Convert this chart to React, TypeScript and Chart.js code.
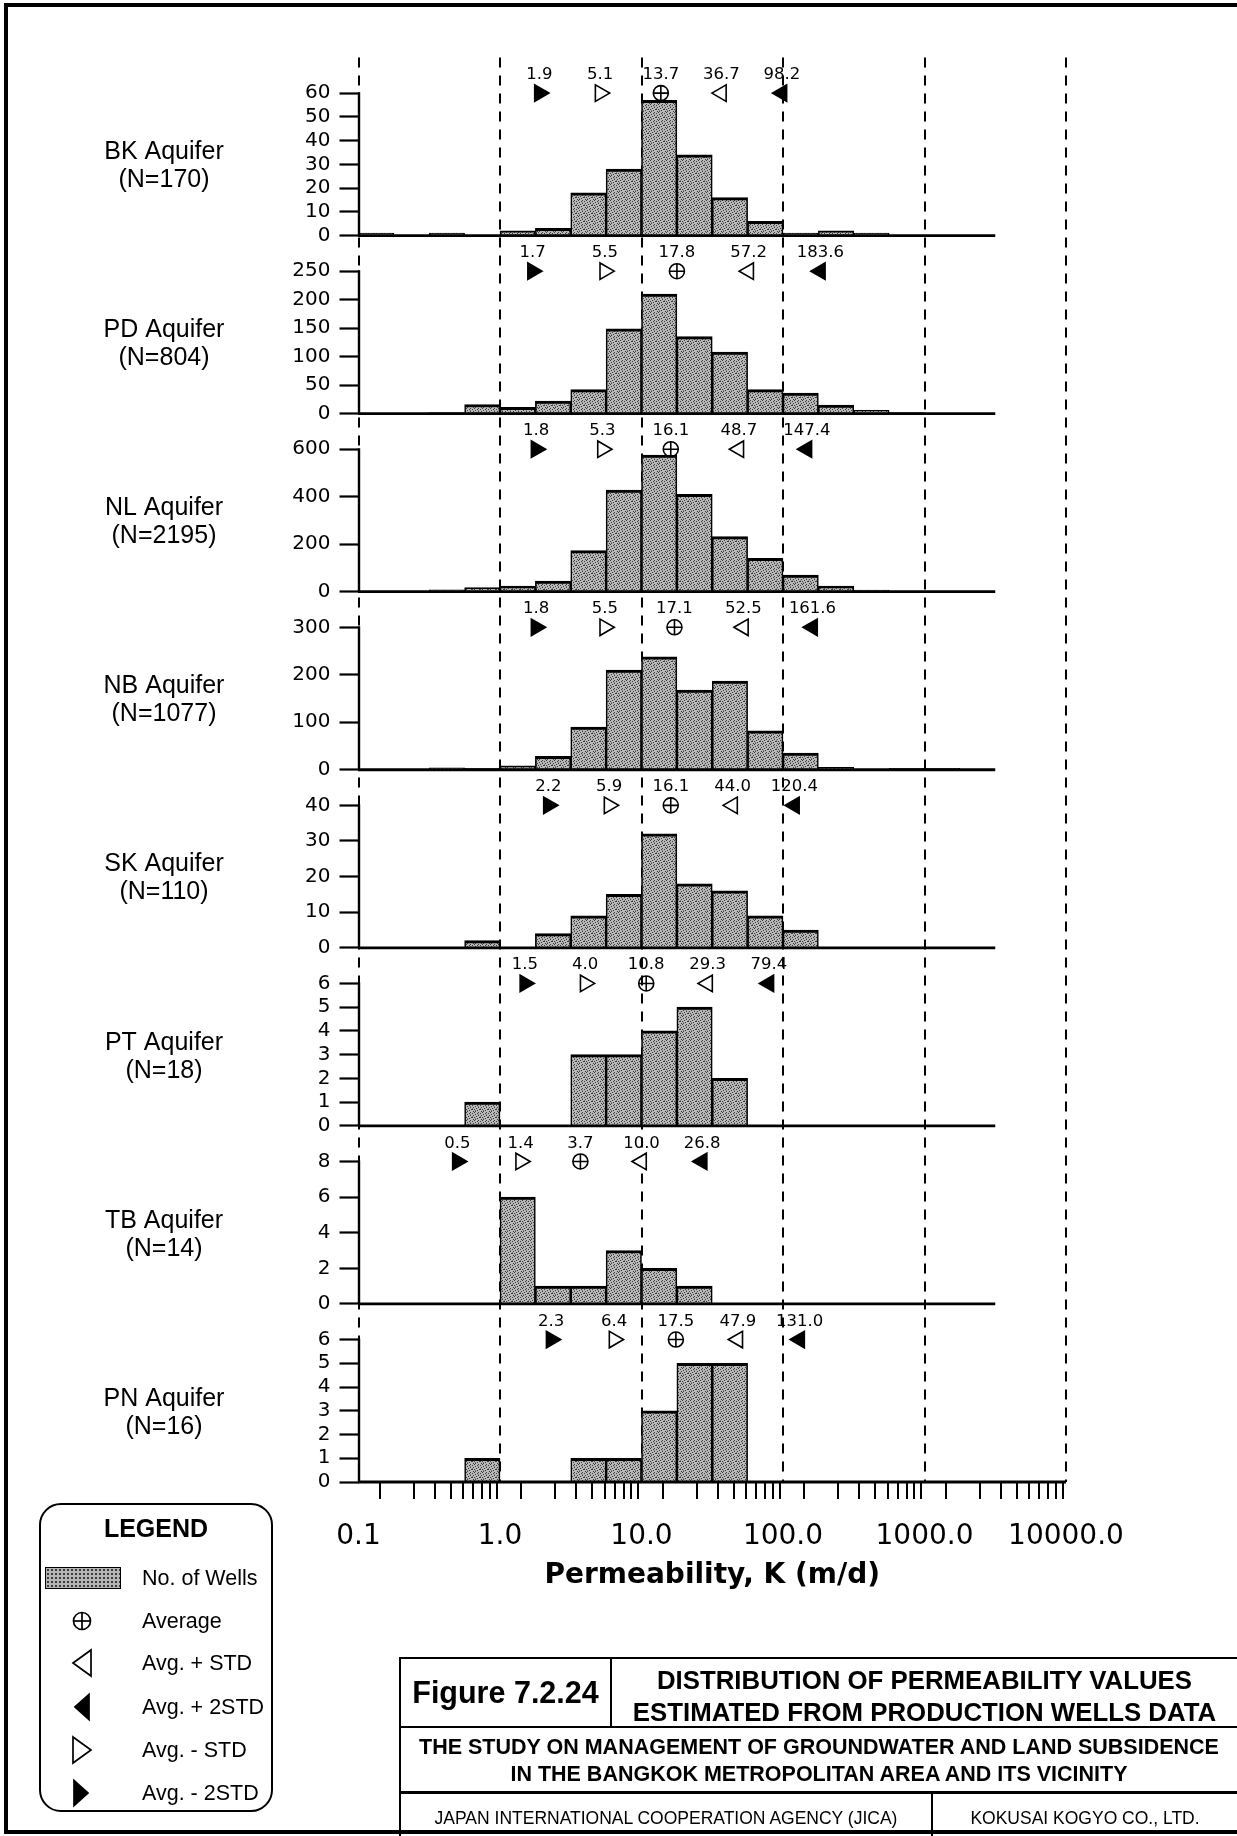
import React, { useEffect, useRef } from 'react';
import { Chart, registerables } from 'chart.js';

Chart.register(...registerables);

// ---- Bins: quarter-decade permeability classes (edges in m/d) ----
const BIN_EDGES = [0.1, 0.1778, 0.3162, 0.5623, 1, 1.778, 3.162, 5.623, 10, 17.78, 31.62, 56.23, 100, 177.8, 316.2, 562.3, 1000, 1778, 3162];

// ---- Number of wells per bin ----
const BK_COUNTS = [1, 0, 1, 0, 2, 3, 18, 28, 57, 34, 16, 6, 1, 2, 1, 0, 0, 0];
const PD_COUNTS = [0, 0, 2, 16, 11, 22, 42, 149, 210, 135, 108, 42, 36, 15, 6, 2, 0, 0];
const NL_COUNTS = [0, 2, 8, 17, 24, 45, 173, 428, 575, 410, 232, 140, 70, 24, 7, 2, 0, 0];
const NB_COUNTS = [0, 1, 4, 3, 8, 28, 90, 210, 238, 168, 187, 82, 35, 5, 1, 3, 3, 1];
const SK_COUNTS = [0, 0, 0, 2, 0, 4, 9, 15, 32, 18, 16, 9, 5, 0, 0, 0, 0, 0];
const PT_COUNTS = [0, 0, 0, 1, 0, 0, 3, 3, 4, 5, 2, 0, 0, 0, 0, 0, 0, 0];
const TB_COUNTS = [0, 0, 0, 0, 6, 1, 1, 3, 2, 1, 0, 0, 0, 0, 0, 0, 0, 0];
const PN_COUNTS = [0, 0, 0, 1, 0, 0, 1, 1, 3, 5, 5, 0, 0, 0, 0, 0, 0, 0];

// ---- Y tick labels per panel ----
const BK_TICKS = [0, 10, 20, 30, 40, 50, 60];
const PD_TICKS = [0, 50, 100, 150, 200, 250];
const NL_TICKS = [0, 200, 400, 600];
const NB_TICKS = [0, 100, 200, 300];
const SK_TICKS = [0, 10, 20, 30, 40];
const PT_TICKS = [0, 1, 2, 3, 4, 5, 6];
const TB_TICKS = [0, 2, 4, 6, 8];
const PN_TICKS = [0, 1, 2, 3, 4, 5, 6];

// ---- Statistics: [Avg-2STD, Avg-STD, Average, Avg+STD, Avg+2STD] ----
const BK_STATS = [1.9, 5.1, 13.7, 36.7, 98.2];
const PD_STATS = [1.7, 5.5, 17.8, 57.2, 183.6];
const NL_STATS = [1.8, 5.3, 16.1, 48.7, 147.4];
const NB_STATS = [1.8, 5.5, 17.1, 52.5, 161.6];
const SK_STATS = [2.2, 5.9, 16.1, 44.0, 120.4];
const PT_STATS = [1.5, 4.0, 10.8, 29.3, 79.4];
const TB_STATS = [0.5, 1.4, 3.7, 10.0, 26.8];
const PN_STATS = [2.3, 6.4, 17.5, 47.9, 131.0];

const AQUIFER_NAMES = ['BK Aquifer', 'PD Aquifer', 'NL Aquifer', 'NB Aquifer', 'SK Aquifer', 'PT Aquifer', 'TB Aquifer', 'PN Aquifer'];
const AQUIFER_N = ['(N=170)', '(N=804)', '(N=2195)', '(N=1077)', '(N=110)', '(N=18)', '(N=14)', '(N=16)'];

// ---- X axis ----
const X_MAJOR = [0.1, 1, 10, 100, 1000, 10000];
const X_TICK_LABELS = ['0.1', '1.0', '10.0', '100.0', '1000.0', '10000.0'];
const X_MINOR_MULT = [2, 3, 4, 5, 6, 7, 8, 9];
const BASELINE_END = 3162;

const PANELS = [
  { key: 'yBK', name: AQUIFER_NAMES[0], n: AQUIFER_N[0], counts: BK_COUNTS, ticks: BK_TICKS, stats: BK_STATS },
  { key: 'yPD', name: AQUIFER_NAMES[1], n: AQUIFER_N[1], counts: PD_COUNTS, ticks: PD_TICKS, stats: PD_STATS },
  { key: 'yNL', name: AQUIFER_NAMES[2], n: AQUIFER_N[2], counts: NL_COUNTS, ticks: NL_TICKS, stats: NL_STATS },
  { key: 'yNB', name: AQUIFER_NAMES[3], n: AQUIFER_N[3], counts: NB_COUNTS, ticks: NB_TICKS, stats: NB_STATS },
  { key: 'ySK', name: AQUIFER_NAMES[4], n: AQUIFER_N[4], counts: SK_COUNTS, ticks: SK_TICKS, stats: SK_STATS },
  { key: 'yPT', name: AQUIFER_NAMES[5], n: AQUIFER_N[5], counts: PT_COUNTS, ticks: PT_TICKS, stats: PT_STATS },
  { key: 'yTB', name: AQUIFER_NAMES[6], n: AQUIFER_N[6], counts: TB_COUNTS, ticks: TB_TICKS, stats: TB_STATS },
  { key: 'yPN', name: AQUIFER_NAMES[7], n: AQUIFER_N[7], counts: PN_COUNTS, ticks: PN_TICKS, stats: PN_STATS },
];

const CHART_FONT = '"DejaVu Sans", "Liberation Sans", sans-serif';
const TEXT_FONT = '"Liberation Sans", Arial, Helvetica, sans-serif';
const HEADROOM = 1.25;
const CANVAS_W = 1237;
const CANVAS_H = 1602;
const LABEL_X = 164;

const STIPPLE = [
  '..x...x.',
  'x....x..',
  '...x..o.',
  '.x....x.',
  'o...x...',
  'x.x....x',
  '...o.x..',
  '.x.x....',
];

function makeStipple(): any {
  const c = document.createElement('canvas');
  c.width = 8;
  c.height = 8;
  const g = c.getContext('2d');
  if (!g) return '#a0a0a0';
  g.fillStyle = '#b9b9b9';
  g.fillRect(0, 0, 8, 8);
  STIPPLE.forEach((row, r) => row.split('').forEach((ch, col) => {
    if (ch === 'x') {
      g.fillStyle = '#3a3a3a';
      g.fillRect(col, r, 1, 1);
    } else if (ch === 'o') {
      g.fillStyle = '#7a7a7a';
      g.fillRect(col, r, 1, 1);
    }
  }));
  return g.createPattern(c, 'repeat') || '#a0a0a0';
}

const BIN_CENTERS = BIN_EDGES.slice(0, -1).map((lo, i) => Math.sqrt(lo * BIN_EDGES[i + 1]));
const X_ALL_TICKS = [
  ...X_MAJOR,
  ...X_MAJOR.slice(0, -1).flatMap((d) => X_MINOR_MULT.map((m) => m * d)),
].sort((a, b) => a - b);

function majorIndex(v: number): number {
  return X_MAJOR.findIndex((m) => Math.abs(m - v) / m < 1e-6);
}

const decadeLinesPlugin = {
  id: 'decadeLines',
  beforeDatasetsDraw(chart: any) {
    const { ctx, chartArea, scales } = chart;
    const xs = scales.xAxis;
    ctx.save();
    ctx.strokeStyle = '#000';
    ctx.lineWidth = 2;
    ctx.setLineDash([10, 8]);
    X_MAJOR.forEach((v) => {
      const px = Math.round(xs.getPixelForValue(v));
      ctx.beginPath();
      ctx.moveTo(px, chartArea.top);
      ctx.lineTo(px, chartArea.bottom);
      ctx.stroke();
    });
    ctx.restore();
  },
};

const overlayPlugin = {
  id: 'aquiferOverlay',
  afterDatasetsDraw(chart: any) {
    const { ctx, scales } = chart;
    const xs = scales.x;
    const xLeft = Math.round(xs.getPixelForValue(X_MAJOR[0]));
    PANELS.forEach((p, i) => {
      const ys = scales[p.key];
      const y0 = ys.getPixelForValue(0);
      const yTop = ys.getPixelForValue(p.ticks[p.ticks.length - 1]);
      const xEnd = xs.getPixelForValue(i === PANELS.length - 1 ? X_MAJOR[X_MAJOR.length - 1] : BASELINE_END);
      ctx.save();
      ctx.strokeStyle = '#000';
      ctx.lineWidth = 2.8;
      ctx.beginPath();
      ctx.moveTo(xLeft - 1, y0);
      ctx.lineTo(xEnd, y0);
      ctx.stroke();
      ctx.lineWidth = 2.4;
      ctx.beginPath();
      ctx.moveTo(xLeft, y0);
      ctx.lineTo(xLeft, yTop - 1);
      ctx.stroke();
      ctx.fillStyle = '#000';
      ctx.font = `25px ${TEXT_FONT}`;
      ctx.textAlign = 'center';
      ctx.textBaseline = 'middle';
      const mid = (y0 + yTop) / 2;
      ctx.fillText(p.name, LABEL_X, mid - 12);
      ctx.fillText(p.n, LABEL_X, mid + 16);
      ctx.restore();
    });
    chart.data.datasets.forEach((ds: any, di: number) => {
      if (!ds.markerLabels) return;
      const meta = chart.getDatasetMeta(di);
      ctx.save();
      ctx.fillStyle = '#000';
      ctx.font = `16.5px ${CHART_FONT}`;
      ctx.textAlign = 'center';
      ctx.textBaseline = 'bottom';
      meta.data.forEach((el: any, j: number) => {
        ctx.fillText(ds.markerLabels[j], el.x, el.y - 10);
      });
      ctx.restore();
    });
  },
};

function LegendSymbol({ kind }: { kind: string }) {
  const s = { stroke: '#000', strokeWidth: 1.7 } as any;
  return (
    <svg width={30} height={32} viewBox="0 0 30 32" style={{ display: 'block' }}>
      {kind === 'avg' && (
        <g fill="none" {...s}>
          <circle cx={15} cy={16} r={8.5} />
          <line x1={15} y1={7.5} x2={15} y2={24.5} />
          <line x1={6.5} y1={16} x2={23.5} y2={16} />
        </g>
      )}
      {kind === 'plus1' && <polygon points="6,16 24,3 24,29" fill="#fff" {...s} />}
      {kind === 'plus2' && <polygon points="8,16 22,3.5 22,28.5" fill="#000" {...s} />}
      {kind === 'minus1' && <polygon points="6,3 24,16 6,29" fill="#fff" {...s} />}
      {kind === 'minus2' && <polygon points="7,3.5 21,16 7,28.5" fill="#000" {...s} />}
    </svg>
  );
}

const LEGEND_ROWS = [
  { kind: 'wells', text: 'No. of Wells', y: 75 },
  { kind: 'avg', text: 'Average', y: 118 },
  { kind: 'plus1', text: 'Avg. + STD', y: 160 },
  { kind: 'plus2', text: 'Avg. + 2STD', y: 204 },
  { kind: 'minus1', text: 'Avg. - STD', y: 247 },
  { kind: 'minus2', text: 'Avg. - 2STD', y: 290 },
];

export default function App() {
  const canvasRef = useRef<HTMLCanvasElement>(null);

  useEffect(() => {
    const canvas = canvasRef.current;
    if (!canvas) return;
    const stipple = makeStipple();
    const datasets: any[] = [];

    PANELS.forEach((p) => {
      const top = p.ticks[p.ticks.length - 1];
      datasets.push({
        type: 'scatter',
        label: p.name + ' stats',
        xAxisID: 'x',
        yAxisID: p.key,
        order: -2,
        data: p.stats.map((v) => ({ x: v, y: top })),
        markerLabels: p.stats.map((v) => v.toFixed(1)),
        pointStyle: ['triangle', 'triangle', 'circle', 'triangle', 'triangle'],
        pointRotation: [90, 90, 0, -90, -90],
        pointRadius: [9.5, 9.5, 7.5, 9.5, 9.5],
        pointBackgroundColor: ['#000', '#fff', 'rgba(0,0,0,0)', '#fff', '#000'],
        pointBorderColor: '#000',
        pointBorderWidth: 1.6,
        showLine: false,
      });
      datasets.push({
        type: 'scatter',
        label: p.name + ' average cross',
        xAxisID: 'x',
        yAxisID: p.key,
        order: -3,
        data: [{ x: p.stats[2], y: top }],
        pointStyle: 'cross',
        pointRadius: 7.5,
        pointBorderColor: '#000',
        pointBorderWidth: 1.6,
        showLine: false,
      });
    });

    PANELS.forEach((p) => {
      datasets.push({
        type: 'bar',
        label: p.name,
        xAxisID: 'x',
        yAxisID: p.key,
        order: 1,
        data: BIN_CENTERS.map((c, j) => ({ x: c, y: p.counts[j] })),
        backgroundColor: stipple,
        borderColor: '#000',
        borderWidth: { top: 3, left: 1.6, right: 1.6, bottom: 0 },
        barPercentage: 1,
        categoryPercentage: 1,
        grouped: false,
      });
    });

    const scales: any = {
      x: {
        type: 'logarithmic',
        display: false,
        min: X_MAJOR[0],
        max: X_MAJOR[X_MAJOR.length - 1],
        afterBuildTicks: (s: any) => {
          s.ticks = X_MAJOR.map((v) => ({ value: v }));
        },
      },
      xAxis: {
        type: 'logarithmic',
        position: 'bottom',
        min: X_MAJOR[0],
        max: X_MAJOR[X_MAJOR.length - 1],
        afterBuildTicks: (s: any) => {
          s.ticks = X_ALL_TICKS.map((v) => ({ value: v, major: majorIndex(v) >= 0 }));
        },
        afterFit: (s: any) => {
          s.height = CANVAS_H - 1482;
        },
        grid: {
          display: true,
          drawOnChartArea: false,
          drawTicks: true,
          tickLength: 17,
          tickWidth: 2,
          tickColor: '#000',
          lineWidth: 2,
          color: '#000',
        },
        border: { display: false },
        ticks: {
          autoSkip: false,
          maxRotation: 0,
          minRotation: 0,
          padding: 21,
          color: '#000',
          font: { family: CHART_FONT, size: 28 },
          callback: (v: any) => {
            const idx = majorIndex(Number(v));
            return idx >= 0 ? X_TICK_LABELS[idx] : '';
          },
        },
        title: {
          display: true,
          text: 'Permeability, K (m/d)',
          color: '#000',
          font: { family: CHART_FONT, size: 28, weight: 'bold' },
          padding: { top: 0, bottom: 9 },
        },
      },
    };

    PANELS.forEach((p, i) => {
      const ticks = p.ticks;
      scales[p.key] = {
        type: 'linear',
        position: 'left',
        stack: 'aquifers',
        stackWeight: 1,
        weight: PANELS.length - i,
        min: 0,
        max: ticks[ticks.length - 1] * HEADROOM,
        afterBuildTicks: (s: any) => {
          s.ticks = ticks.map((v) => ({ value: v }));
        },
        afterFit: (s: any) => {
          s.width = 100;
        },
        grid: {
          drawOnChartArea: false,
          drawTicks: true,
          tickLength: 19,
          tickWidth: 2.2,
          tickColor: '#000',
          color: '#000',
        },
        border: { display: false },
        ticks: {
          autoSkip: false,
          padding: 9,
          color: '#000',
          font: { family: CHART_FONT, size: 20 },
        },
      };
    });

    const chart = new Chart(canvas, {
      type: 'bar',
      data: { datasets },
      options: {
        responsive: false,
        animation: false,
        events: [],
        layout: { padding: { left: 258.5, right: 171, top: 57.5, bottom: 0 } },
        plugins: {
          legend: { display: false },
          tooltip: { enabled: false },
          title: { display: false },
        },
        scales,
      } as any,
      plugins: [decadeLinesPlugin, overlayPlugin],
    } as any);

    return () => chart.destroy();
  }, []);

  const line = '2px solid #000';

  return (
    <div style={{ position: 'absolute', left: 0, top: 0, width: 1237, height: 1836, overflow: 'hidden', background: '#fff', color: '#000', fontFamily: TEXT_FONT }}>
      <canvas ref={canvasRef} width={CANVAS_W} height={CANVAS_H} style={{ position: 'absolute', left: 0, top: 0, width: CANVAS_W, height: CANVAS_H }} />

      {/* outer frame */}
      <div style={{ position: 'absolute', left: 4, top: 3, width: 1250, height: 1831, borderLeft: '4px solid #000', borderTop: '4px solid #000', borderBottom: '4px solid #000', boxSizing: 'border-box', pointerEvents: 'none' }} />

      {/* legend */}
      <div style={{ position: 'absolute', left: 39, top: 1503, width: 234, height: 309, border: line, borderRadius: 22, boxSizing: 'border-box' }}>
        <div style={{ position: 'absolute', left: 0, width: '100%', top: 8, textAlign: 'center', fontWeight: 'bold', fontSize: 25, lineHeight: '30px' }}>LEGEND</div>
        {LEGEND_ROWS.map((r) => (
          <React.Fragment key={r.kind}>
            {r.kind === 'wells' ? (
              <div style={{ position: 'absolute', left: 4, top: r.y - 11 - 2, width: 76, height: 22, border: '1.5px solid #000', boxSizing: 'border-box', backgroundColor: '#b4b4b4', backgroundImage: 'radial-gradient(#3a3a3a 0.9px, transparent 1.3px)', backgroundSize: '4px 4px' }} />
            ) : (
              <div style={{ position: 'absolute', left: 43 - 2 - 15, top: r.y - 2 - 16 }}>
                <LegendSymbol kind={r.kind} />
              </div>
            )}
            <div style={{ position: 'absolute', left: 101, top: r.y - 2 - 13, fontSize: 21.5, lineHeight: '26px', whiteSpace: 'nowrap' }}>{r.text}</div>
          </React.Fragment>
        ))}
      </div>

      {/* title block */}
      <div style={{ position: 'absolute', left: 399, top: 1657, width: 860, height: 180, borderTop: line, borderLeft: line, boxSizing: 'border-box' }} />
      <div style={{ position: 'absolute', left: 399, top: 1726, width: 860, height: 2, background: '#000' }} />
      <div style={{ position: 'absolute', left: 399, top: 1791, width: 860, height: 3, background: '#000' }} />
      <div style={{ position: 'absolute', left: 610, top: 1657, width: 2, height: 70, background: '#000' }} />
      <div style={{ position: 'absolute', left: 931, top: 1792, width: 2, height: 44, background: '#000' }} />

      <div style={{ position: 'absolute', left: 401, top: 1659, width: 209, height: 67, display: 'flex', alignItems: 'center', justifyContent: 'center', fontWeight: 'bold', fontSize: 30.5, whiteSpace: 'nowrap' }}>Figure 7.2.24</div>
      <div style={{ position: 'absolute', left: 612, top: 1663, width: 625, height: 66, display: 'flex', flexDirection: 'column', alignItems: 'center', justifyContent: 'center', fontWeight: 'bold', fontSize: 25.8, lineHeight: '32px', whiteSpace: 'nowrap' }}>
        <div>DISTRIBUTION OF PERMEABILITY VALUES</div>
        <div>ESTIMATED FROM PRODUCTION WELLS DATA</div>
      </div>
      <div style={{ position: 'absolute', left: 401, top: 1730, width: 836, height: 62, display: 'flex', flexDirection: 'column', alignItems: 'center', justifyContent: 'center', fontWeight: 'bold', fontSize: 21.5, lineHeight: '27px', whiteSpace: 'nowrap' }}>
        <div>THE STUDY ON MANAGEMENT OF GROUNDWATER AND LAND SUBSIDENCE</div>
        <div>IN THE BANGKOK METROPOLITAN AREA AND ITS VICINITY</div>
      </div>
      <div style={{ position: 'absolute', left: 401, top: 1806, width: 530, height: 24, textAlign: 'center', fontSize: 17.5, lineHeight: '24px', whiteSpace: 'nowrap' }}>JAPAN INTERNATIONAL COOPERATION AGENCY (JICA)</div>
      <div style={{ position: 'absolute', left: 933, top: 1806, width: 304, height: 24, textAlign: 'center', fontSize: 17.5, lineHeight: '24px', whiteSpace: 'nowrap' }}>KOKUSAI KOGYO CO., LTD.</div>
    </div>
  );
}
